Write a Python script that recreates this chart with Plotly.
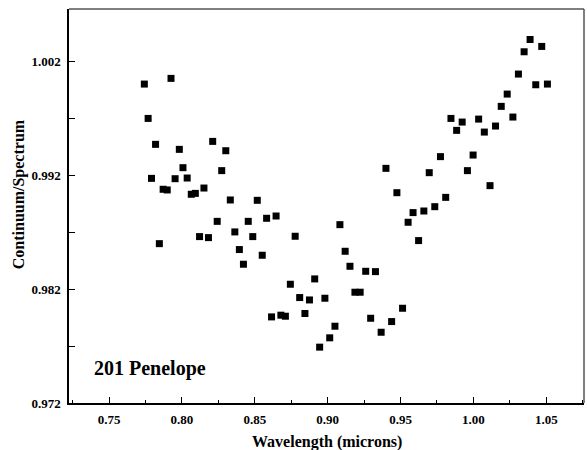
import plotly.graph_objects as go

# Reflectance ratio for asteroid 201 Penelope
wavelength = [
    0.7742, 0.7768, 0.7791, 0.7819, 0.7845, 0.7871, 0.7899, 0.7925, 0.7953, 0.7982,
    0.8007, 0.8036, 0.8064, 0.8092, 0.8121, 0.8151, 0.8182, 0.8211, 0.8242, 0.8273,
    0.8301, 0.8332, 0.8363, 0.8394, 0.8422, 0.8455, 0.8486, 0.8517, 0.8551, 0.8581,
    0.8615, 0.8646, 0.8679, 0.8710, 0.8744, 0.8777, 0.8808, 0.8844, 0.8875, 0.8911,
    0.8945, 0.8981, 0.9014, 0.9050, 0.9084, 0.9120, 0.9153, 0.9187, 0.9223, 0.9261,
    0.9295, 0.9328, 0.9367, 0.9400, 0.9439, 0.9475, 0.9514, 0.9552, 0.9586, 0.9624,
    0.9660, 0.9697, 0.9735, 0.9774, 0.9810, 0.9846, 0.9885, 0.9923, 0.9959, 0.9998,
    1.0036, 1.0075, 1.0114, 1.0152, 1.0191, 1.0232, 1.0271, 1.0309, 1.0348, 1.0389,
    1.0428, 1.0469, 1.0508,
]
ratio = [
    1.00004, 0.99702, 0.99175, 0.99474, 0.98601, 0.99079, 0.99073, 1.00054, 0.99172, 0.99430,
    0.99269, 0.99178, 0.99035, 0.99043, 0.98663, 0.99090, 0.98654, 0.99500, 0.98797, 0.99243,
    0.99418, 0.98985, 0.98704, 0.98549, 0.98420, 0.98797, 0.98663, 0.98982, 0.98499, 0.98824,
    0.97957, 0.98844, 0.97972, 0.97963, 0.98244, 0.98666, 0.98127, 0.97987, 0.98106, 0.98291,
    0.97691, 0.98121, 0.97773, 0.97875, 0.98768, 0.98534, 0.98402, 0.98174, 0.98174, 0.98358,
    0.97945, 0.98355, 0.97822, 0.99263, 0.97916, 0.99049, 0.98033, 0.98789, 0.98874, 0.98628,
    0.98888, 0.99225, 0.98926, 0.99366, 0.99008, 0.99702, 0.99597, 0.99670, 0.99243, 0.99380,
    0.99696, 0.99582, 0.99111, 0.99635, 0.99808, 0.99916, 0.99714, 1.00092, 1.00288, 1.00396,
    0.99998, 1.00335, 1.00004,
]

x_range = [0.7225, 1.0759]
y_range = [0.972, 1.00664]

serif = "Liberation Serif"

fig = go.Figure(
    go.Scatter(
        x=wavelength,
        y=ratio,
        mode="markers",
        marker=dict(symbol="square", size=7, color="black", line=dict(width=0)),
        hoverinfo="x+y",
    )
)

axis_common = dict(
    showgrid=False,
    zeroline=False,
    showline=True,
    linecolor="black",
    linewidth=1.5,
    ticks="inside",
    tickcolor="black",
    tickwidth=1,
    tickfont=dict(family=serif, size=13, color="black", weight="bold"),
)

fig.update_xaxes(
    range=x_range,
    tick0=0.75,
    dtick=0.05,
    tickformat=".2f",
    ticklen=6,
    ticklabelstandoff=4,
    minor=dict(dtick=0.025, tick0=0.725, ticks="inside", ticklen=3, tickcolor="black"),
    **axis_common,
)
fig.update_yaxes(
    range=y_range,
    tick0=0.972,
    dtick=0.01,
    tickformat=".3f",
    ticklen=6,
    ticklabelstandoff=4,
    minor=dict(dtick=0.005, tick0=0.972, ticks="inside", ticklen=6, tickcolor="black"),
    **axis_common,
)

# Grey frame edges on the top and right
fig.add_shape(type="line", xref="paper", yref="paper", x0=0, x1=1, y0=1, y1=1,
              line=dict(color="#555555", width=1.5))
fig.add_shape(type="line", xref="paper", yref="paper", x0=1, x1=1, y0=0, y1=1,
              line=dict(color="#555555", width=1.5))

# Axis titles
fig.add_annotation(text="Wavelength (microns)", xref="paper", yref="paper",
                   x=0.5, y=-0.098, xanchor="center", yanchor="middle", showarrow=False,
                   font=dict(family=serif, size=16, color="black", weight="bold"))
fig.add_annotation(text="Continuum/Spectrum", xref="paper", yref="paper",
                   x=-0.097, y=0.53, xanchor="center", yanchor="middle", showarrow=False,
                   textangle=-90,
                   font=dict(family=serif, size=16, color="black", weight="bold"))

# Object label
fig.add_annotation(text="201 Penelope", xref="x", yref="y",
                   x=0.7385, y=0.97505, xanchor="left", yanchor="middle", showarrow=False,
                   font=dict(family=serif, size=20, color="black", weight="bold"))

fig.update_layout(
    width=587,
    height=450,
    margin=dict(l=69, r=3, t=9, b=47),
    paper_bgcolor="white",
    plot_bgcolor="white",
    showlegend=False,
)

fig.write_html("out.html")
